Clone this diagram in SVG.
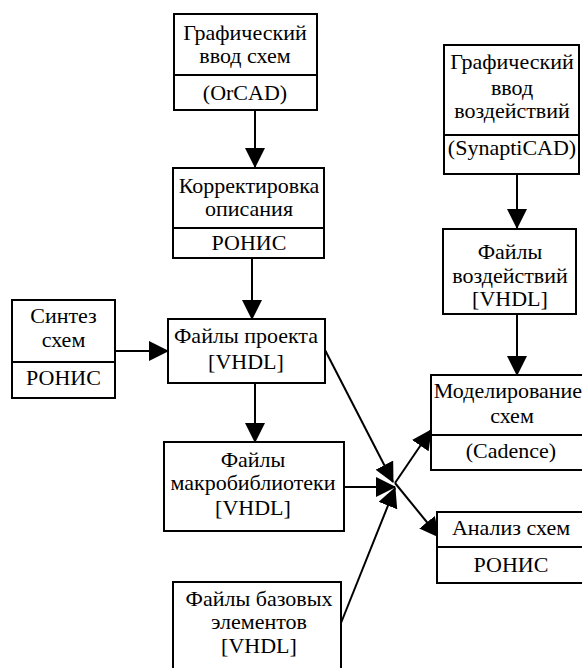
<svg xmlns="http://www.w3.org/2000/svg" width="582" height="668" viewBox="0 0 582 668">
<defs>
<marker id="arr" viewBox="0 0 20 20" refX="19" refY="10" markerWidth="20" markerHeight="20" markerUnits="userSpaceOnUse" orient="auto">
<path d="M0,0 L20,10 L0,20 z" fill="#000"/>
</marker>
<style>
.box{fill:#fff;stroke:#000;stroke-width:2}
.div{stroke:#000;stroke-width:2}
text{font-family:'Liberation Serif','Times New Roman',serif;font-size:22px;fill:#000;text-anchor:middle}
.c{stroke:#000;stroke-width:2;fill:none;marker-end:url(#arr)}
</style>
</defs>
<rect width="582" height="668" fill="#fff"/>
<g id="connectors">
<line class="c" x1="255" y1="110" x2="255" y2="167"/>
<line class="c" x1="252" y1="258" x2="252" y2="319"/>
<line class="c" x1="115" y1="351" x2="168" y2="351"/>
<line class="c" x1="255" y1="383" x2="255" y2="442"/>
<line class="c" x1="517" y1="174" x2="517" y2="228"/>
<line class="c" x1="517" y1="314" x2="517" y2="375"/>
<line class="c" x1="325" y1="350" x2="393" y2="482"/>
<line class="c" x1="344" y1="487" x2="395" y2="487"/>
<line class="c" x1="341" y1="623" x2="395" y2="488"/>
<line class="c" x1="395" y1="483" x2="431" y2="430"/>
<line class="c" x1="395" y1="483" x2="439" y2="537"/>
</g>
<g id="n-graf-vvod">
<rect class="box" x="174" y="14" width="143" height="96"/>
<line class="div" x1="174" y1="75" x2="317" y2="75"/>
<text x="245" y="40">Графический</text>
<text x="245" y="63">ввод схем</text>
<text x="245" y="100">(OrCAD)</text>
</g>
<g id="n-korr">
<rect class="box" x="173" y="168" width="151" height="90"/>
<line class="div" x1="173" y1="228" x2="324" y2="228"/>
<text x="249" y="193">Корректировка</text>
<text x="249" y="216">описания</text>
<text x="249" y="250">РОНИС</text>
</g>
<g id="n-sintez">
<rect class="box" x="12" y="300" width="103" height="98"/>
<line class="div" x1="12" y1="362" x2="115" y2="362"/>
<text x="63.5" y="323">Синтез</text>
<text x="63.5" y="347">схем</text>
<text x="63.5" y="385">РОНИС</text>
</g>
<g id="n-proekt">
<rect class="box" x="168" y="319" width="157" height="64"/>
<text x="246" y="343">Файлы проекта</text>
<text x="246" y="369">[VHDL]</text>
</g>
<g id="n-makro">
<rect class="box" x="164" y="442" width="180" height="89"/>
<text x="253" y="467">Файлы</text>
<text x="253" y="490">макробиблиотеки</text>
<text x="253" y="515">[VHDL]</text>
</g>
<g id="n-bazovye">
<rect class="box" x="173" y="582" width="168" height="100"/>
<text x="259" y="606">Файлы базовых</text>
<text x="259" y="629">элементов</text>
<text x="259" y="653">[VHDL]</text>
</g>
<g id="n-graf-vozd">
<rect class="box" x="444" y="45" width="135" height="129"/>
<line class="div" x1="444" y1="135" x2="579" y2="135"/>
<text x="512" y="69">Графический</text>
<text x="512" y="95">ввод</text>
<text x="512" y="118">воздействий</text>
<text x="512" y="155">(SynaptiCAD)</text>
</g>
<g id="n-faily-vozd">
<rect class="box" x="443" y="229" width="133" height="85"/>
<text x="510" y="259">Файлы</text>
<text x="510" y="283">воздействий</text>
<text x="510" y="306">[VHDL]</text>
</g>
<g id="n-model">
<rect class="box" x="431" y="375" width="163" height="95"/>
<line class="div" x1="431" y1="435" x2="594" y2="435"/>
<text x="508" y="398">Моделирование</text>
<text x="512" y="423">схем</text>
<text x="511" y="458">(Cadence)</text>
</g>
<g id="n-analiz">
<rect class="box" x="437" y="512" width="149" height="71"/>
<line class="div" x1="437" y1="547" x2="586" y2="547"/>
<text x="511" y="535">Анализ схем</text>
<text x="511" y="572">РОНИС</text>
</g>
</svg>
